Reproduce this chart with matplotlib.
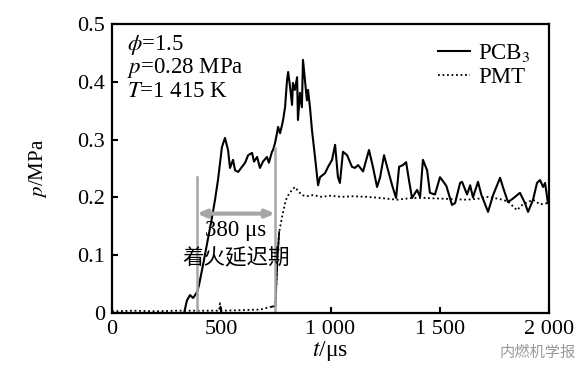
import numpy as np
import matplotlib
matplotlib.use("Agg")
import matplotlib.pyplot as plt

plt.rcParams['font.family'] = ['Liberation Serif', 'Noto Sans CJK SC']
plt.rcParams['mathtext.fontset'] = 'stix'

# PCB3 pressure trace (t in us, p in MPa)
t_pcb = [0, 330, 343, 357, 371, 389, 398, 420, 440, 457, 471, 485, 503, 517, 531, 540,
         554, 563, 577, 595, 609, 623, 641, 650, 664, 677, 691, 709, 718, 732, 737, 746,
         755, 760, 769, 778, 783, 792, 801, 806, 815, 824, 828, 837, 847, 851, 860, 869,
         874, 883, 892, 897, 906, 915, 929, 943, 952, 975, 989, 1007, 1021, 1034, 1043,
         1057, 1076, 1098, 1112, 1126, 1149, 1176, 1194, 1213, 1227, 1245, 1259, 1282,
         1300, 1314, 1332, 1346, 1359, 1373, 1396, 1410, 1423, 1442, 1455, 1478, 1501,
         1515, 1530, 1556, 1570, 1593, 1602, 1625, 1639, 1652, 1675, 1690, 1721, 1745,
         1776, 1789, 1812, 1835, 1867, 1890, 1904, 1927, 1945, 1959, 1973, 1982, 1995, 2000]
p_pcb = [0.0, 0.0, 0.022, 0.031, 0.026, 0.036, 0.048, 0.09, 0.13, 0.164, 0.195, 0.23, 0.287,
         0.303, 0.282, 0.251, 0.265, 0.247, 0.244, 0.253, 0.26, 0.273, 0.277, 0.262, 0.27,
         0.251, 0.262, 0.27, 0.26, 0.279, 0.282, 0.294, 0.311, 0.322, 0.311, 0.325, 0.334,
         0.356, 0.403, 0.417, 0.391, 0.36, 0.398, 0.386, 0.408, 0.334, 0.381, 0.356, 0.438,
         0.403, 0.368, 0.386, 0.356, 0.317, 0.27, 0.221, 0.235, 0.242, 0.253, 0.265, 0.291,
         0.235, 0.225, 0.279, 0.273, 0.253, 0.251, 0.256, 0.245, 0.282, 0.253, 0.218, 0.235,
         0.273, 0.253, 0.221, 0.199, 0.253, 0.256, 0.261, 0.23, 0.199, 0.213, 0.201, 0.265,
         0.247, 0.208, 0.205, 0.235, 0.228, 0.22, 0.187, 0.19, 0.225, 0.227, 0.205, 0.221,
         0.2, 0.227, 0.205, 0.175, 0.205, 0.234, 0.218, 0.192, 0.198, 0.208, 0.19, 0.175,
         0.196, 0.225, 0.23, 0.218, 0.225, 0.19, 0.19]

# PMT signal
t_pmt = [0, 100, 200, 300, 400, 490, 494, 498, 600, 680, 709, 732, 748, 752, 758, 765,
         778, 792, 801, 824, 837, 850, 869, 892, 920, 960, 1000, 1050, 1100, 1167, 1230,
         1304, 1370, 1433, 1500, 1560, 1625, 1680, 1721, 1776, 1812, 1853, 1880, 1927,
         1959, 1991, 2000]
p_pmt = [0.003, 0.004, 0.003, 0.004, 0.004, 0.004, 0.017, 0.004, 0.005, 0.006, 0.009, 0.011,
         0.012, 0.05, 0.10, 0.14, 0.166, 0.19, 0.201, 0.213, 0.218, 0.212, 0.204, 0.202,
         0.204, 0.201, 0.203, 0.201, 0.202, 0.201, 0.199, 0.196, 0.199, 0.199, 0.198, 0.197,
         0.196, 0.198, 0.201, 0.197, 0.193, 0.178, 0.188, 0.196, 0.188, 0.19, 0.19]

xticks = [0, 500, 1000, 1500, 2000]
xticklabels = ["0", "500", "1 000", "1 500", "2 000"]
yticks = [0, 0.1, 0.2, 0.3, 0.4, 0.5]
yticklabels = ["0", "0.1", "0.2", "0.3", "0.4", "0.5"]

# ignition delay markers
t_start, t_end = 389, 746

fig = plt.figure(figsize=(5.88, 3.82), dpi=100)
ax = fig.add_axes([0.1905, 0.1806, 0.7432, 0.7565])

ax.plot(t_pcb, p_pcb, color='black', lw=1.5, label='PCB$_3$')
ax.plot(t_pmt, p_pmt, color='black', lw=1.3, ls=(0, (1, 1.5)), label='PMT')
# steep rise of the PMT looks solid in the original
ax.plot(t_pmt[11:16], p_pmt[11:16], color='black', lw=1.3)

grey = '#a6a6a6'
ax.plot([t_start, t_start], [0, 0.235], color=grey, lw=1.8)
ax.plot([t_end, t_end], [0, 0.285], color=grey, lw=1.8)
ax.annotate('', xy=(t_end, 0.172), xytext=(t_start, 0.172),
            arrowprops=dict(arrowstyle='<|-|>,head_length=0.5,head_width=0.22',
                            color=grey, lw=3, shrinkA=0, shrinkB=0))
ax.text(567, 0.142, '380 μs', ha='center', va='center', fontsize=16.5)
ax.text(570, 0.095, '着火延迟期', ha='center', va='center', fontsize=15.5,
        family=['Noto Sans CJK SC'])

fs = 16.5
ax.text(0.035, 0.927, r'$\phi$=1.5', transform=ax.transAxes, fontsize=fs, va='center')
ax.text(0.035, 0.848, r'$p$=0.28 MPa', transform=ax.transAxes, fontsize=fs, va='center')
ax.text(0.035, 0.765, r'$T$=1 415 K', transform=ax.transAxes, fontsize=fs, va='center')

ax.set_xlim(0, 2000)
ax.set_ylim(0, 0.5)
ax.set_xticks(xticks)
ax.set_xticklabels(xticklabels)
ax.set_yticks(yticks)
ax.set_yticklabels(yticklabels)
ax.tick_params(direction='in', length=4, width=1.5, labelsize=16, pad=5)
for s in ax.spines.values():
    s.set_linewidth(1.6)

ax.set_xlabel(r'$t$/μs', fontsize=17, labelpad=0)
ax.set_ylabel(r'$p$/MPa', fontsize=15, labelpad=20)

ax.legend(loc='upper right', frameon=False, fontsize=fs, handlelength=1.4,
          handletextpad=0.35, labelspacing=0.1, borderaxespad=0.4)

fig.text(0.915, 0.078, '内燃机学报', color='#9a9a9a', fontsize=11, ha='center',
         va='center', family=['Noto Sans CJK SC'])

fig.savefig('out.png', dpi=100)
